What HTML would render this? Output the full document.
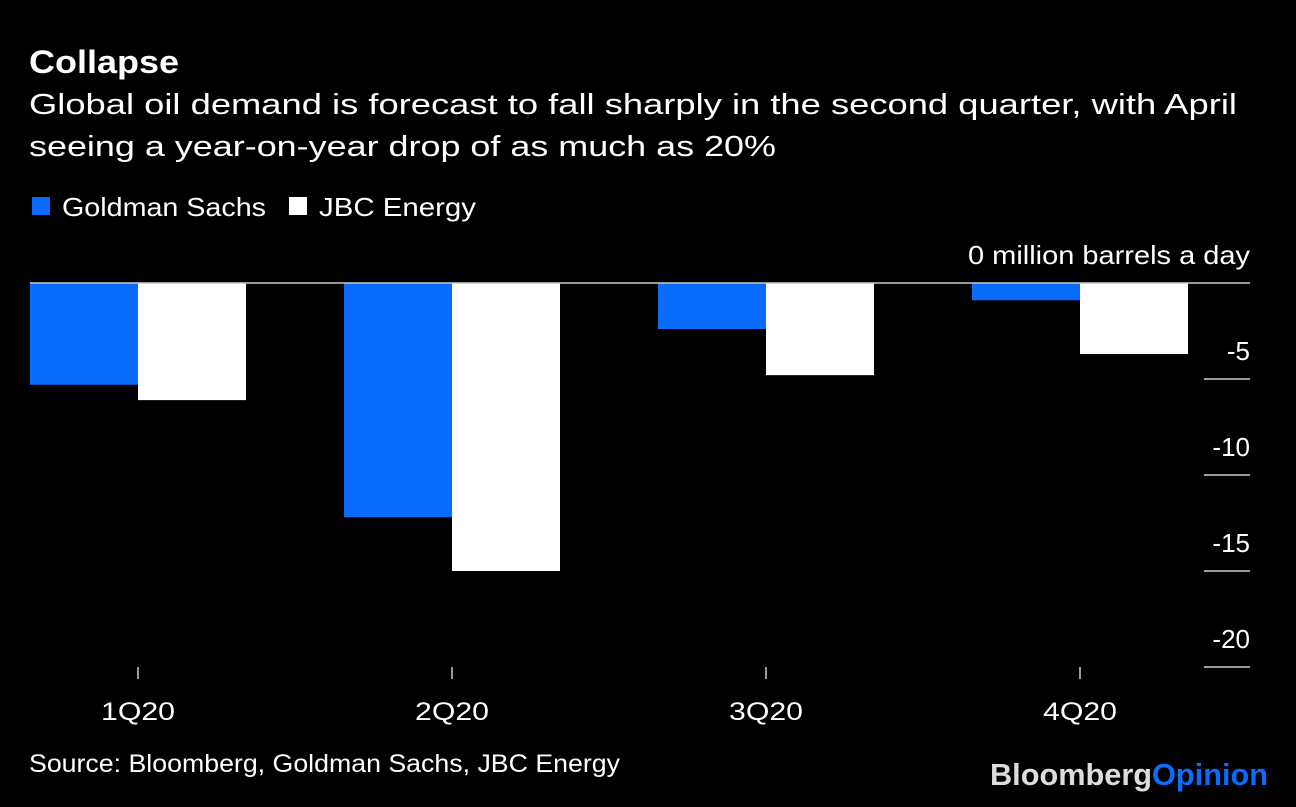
<!DOCTYPE html>
<html><head><meta charset="utf-8"><style>
body{margin:0;background:#000;width:1296px;height:802px;overflow:hidden;font-family:"Liberation Sans",sans-serif;color:#fff}
svg text{font-family:"Liberation Sans",sans-serif}
</style></head><body>
<svg width="1296" height="802">
<text x="29" y="73" font-size="32" font-weight="bold" fill="#fff" textLength="150" lengthAdjust="spacingAndGlyphs">Collapse</text>
<text x="29" y="114" font-size="29" fill="#fff" textLength="1208" lengthAdjust="spacingAndGlyphs">Global oil demand is forecast to fall sharply in the second quarter, with April</text>
<text x="29" y="156" font-size="29" fill="#fff" textLength="747" lengthAdjust="spacingAndGlyphs">seeing a year-on-year drop of as much as 20%</text>
<g>
<rect x="32" y="197" width="18" height="18" fill="#0a6cff"/>
<text x="62" y="216" font-size="26" fill="#fff" textLength="204" lengthAdjust="spacingAndGlyphs">Goldman Sachs</text>
<rect x="289" y="197" width="18" height="18" fill="#fff"/>
<text x="319" y="216" font-size="26" fill="#fff" textLength="157" lengthAdjust="spacingAndGlyphs">JBC Energy</text>
</g>
<g id="plot"></g>
<text x="29" y="772" font-size="25" fill="#fff" textLength="591" lengthAdjust="spacingAndGlyphs">Source: Bloomberg, Goldman Sachs, JBC Energy</text>
<text x="990" y="785" font-size="31" font-weight="bold" textLength="278" lengthAdjust="spacingAndGlyphs"><tspan fill="#ddd">Bloomberg</tspan><tspan fill="#0a6cff">Opinion</tspan></text>
</svg>
<script>
const categories=["1Q20","2Q20","3Q20","4Q20"];
const goldman=[-5.3,-12.2,-2.4,-0.9];
const jbc=[-6.1,-15.0,-4.8,-3.7];
const yTicks=[-5,-10,-15,-20];
const NS="http://www.w3.org/2000/svg";
const g=document.getElementById('plot');
const y0=283,ppu=19.2;
const y=v=>y0-v*ppu;
const xc=i=>138+i*314;
const bw=108;
function mk(t,a){const e=document.createElementNS(NS,t);for(const k in a)e.setAttribute(k,a[k]);g.appendChild(e);return e;}
categories.forEach((c,i)=>{
 const b1=mk('rect',{x:xc(i)-bw,y:y0,width:bw,height:y(goldman[i])-y0,fill:'#0a6cff'});
 
 
 const b2=mk('rect',{x:xc(i),y:y0,width:bw,height:y(jbc[i])-y0,fill:'#fff'});
 
 
 const tk=mk('line',{x1:xc(i),x2:xc(i),y1:667,y2:679,stroke:'#ccc','stroke-width':1.5});
 
 
 const tl=mk('text',{x:xc(i),y:720,'font-size':25,fill:'#fff','text-anchor':'middle',textLength:74,lengthAdjust:'spacingAndGlyphs'});
 tl.textContent=c;
 
 
});
const zl=mk('line',{x1:30,x2:1250,y1:y0,y2:y0,stroke:'#ccc','stroke-width':1.5});


const zt=mk('text',{x:1250,y:y0-19,'font-size':26,fill:'#fff','text-anchor':'end',textLength:282,lengthAdjust:'spacingAndGlyphs'});
zt.textContent='0 million barrels a day';


yTicks.forEach(v=>{
 const l=mk('line',{x1:1204,x2:1250,y1:y(v),y2:y(v),stroke:'#ccc','stroke-width':1.5});
 
 
 const t=mk('text',{x:1250,y:y(v)-19,'font-size':26,fill:'#fff','text-anchor':'end'});
 t.textContent=v;
 
 
});
</script>
</body></html>
